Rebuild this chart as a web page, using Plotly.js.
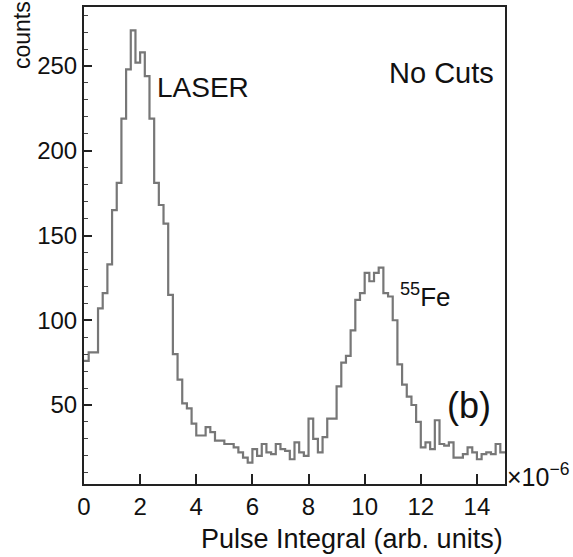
<!DOCTYPE html>
<html>
<head>
<meta charset="utf-8">
<script src="https://cdn.plot.ly/plotly-3.0.1.min.js"></script>
<style>html,body{margin:0;padding:0;background:#fff;}#chart{width:573px;height:557px;}</style>
</head>
<body>
<div id="chart"></div>
<script>
// Histogram: 90 bins of width 1/6 (units of 1e-6) from 0 to 15
var binWidth = 1 / 6;
var counts = [
  76, 81, 81, 107, 116, 133, 165, 181, 219, 248,
  271, 252, 258, 244, 219, 181, 168, 157, 115, 80,
  65, 51, 48, 39, 32, 32, 37, 34, 29, 29,
  27, 27, 25, 22, 19, 16, 24, 20, 27, 22,
  21, 27, 24, 23, 18, 28, 22, 20, 42, 30,
  22, 31, 42, 42, 61, 75, 79, 94, 112, 116,
  128, 123, 128, 131, 116, 114, 100, 74, 62, 55,
  50, 40, 25, 28, 24, 41, 27, 26, 28, 19,
  19, 21, 25, 22, 18, 21, 22, 21, 27, 22
];
var xTickVals = [0, 2, 4, 6, 8, 10, 12, 14];
var yTickVals = [50, 100, 150, 200, 250];

var xs = [], ys = [];
for (var i = 0; i < counts.length; i++) { xs.push(i * binWidth); ys.push(counts[i]); }
xs.push(counts.length * binWidth); ys.push(counts[counts.length - 1]);

var font = 'Liberation Sans, Arial, Helvetica, sans-serif';
var trace = {
  x: xs, y: ys, type: 'scatter', mode: 'lines',
  line: {shape: 'hv', color: '#777777', width: 2.2},
  hoverinfo: 'skip'
};
var layout = {
  width: 573, height: 557,
  margin: {l: 84, r: 68, t: 7, b: 73},
  paper_bgcolor: '#fff', plot_bgcolor: '#fff',
  showlegend: false,
  font: {family: font, color: '#111', size: 24},
  xaxis: {
    range: [0, 15], tickvals: xTickVals, ticktext: xTickVals.map(String),
    ticks: 'inside', ticklen: 10, tickwidth: 2, tickcolor: '#222',
    showline: true, linecolor: '#222', linewidth: 2, mirror: true,
    showgrid: false, zeroline: false,
    tickfont: {size: 24, family: font, color: '#111'},
    title: {text: ''}
  },
  yaxis: {
    range: [3.4, 284.8], tickvals: yTickVals, ticktext: yTickVals.map(String),
    ticks: 'inside', ticklen: 8, tickwidth: 2, tickcolor: '#222',
    minor: {dtick: 10, tick0: 0, ticks: 'inside', ticklen: 4, tickcolor: '#444', tickwidth: 1},
    showline: true, linecolor: '#222', linewidth: 2, mirror: true,
    showgrid: false, zeroline: false,
    tickfont: {size: 24, family: font, color: '#111'},
    title: {text: ''}
  },
  annotations: [
    {text: 'counts', xref: 'paper', yref: 'paper', x: (22 - 84) / 421, y: 1.0, xanchor: 'center', yanchor: 'top',
     textangle: -90, yshift: 8, showarrow: false, font: {size: 23, family: font, color: '#111'}},
    {text: 'Pulse Integral (arb. units)', xref: 'paper', yref: 'paper', x: 1, y: 0, xanchor: 'right', yanchor: 'top',
     yshift: -38, showarrow: false, font: {size: 27, family: font, color: '#111'}},
    {text: '×10<sup>−6</sup>', xref: 'paper', yref: 'paper', x: 1, y: 0, xanchor: 'left', yanchor: 'middle',
     xshift: 0, yshift: 9, showarrow: false, font: {size: 25, family: font, color: '#111'}},
    {text: 'LASER', xref: 'paper', yref: 'paper', x: (203 - 84) / 421, y: 1 - (87 - 7) / 477, xanchor: 'center', yanchor: 'middle',
     showarrow: false, font: {size: 28, family: font, color: '#111'}},
    {text: 'No Cuts', xref: 'paper', yref: 'paper', x: (441 - 84) / 421, y: 1 - (73 - 7) / 477, xanchor: 'center', yanchor: 'middle',
     showarrow: false, font: {size: 29, family: font, color: '#111'}},
    {text: '<sup>55</sup>Fe', xref: 'paper', yref: 'paper', x: (398 - 84) / 421, y: 1 - (295 - 7) / 477, xanchor: 'left', yanchor: 'middle',
     showarrow: false, font: {size: 26, family: font, color: '#111'}},
    {text: '(b)', xref: 'paper', yref: 'paper', x: (469 - 84) / 421, y: 1 - (405 - 7) / 477, xanchor: 'center', yanchor: 'middle',
     showarrow: false, font: {size: 36, family: font, color: '#111'}}
  ]
};
Plotly.newPlot('chart', [trace], layout, {displayModeBar: false, staticPlot: true});
</script>
</body>
</html>
